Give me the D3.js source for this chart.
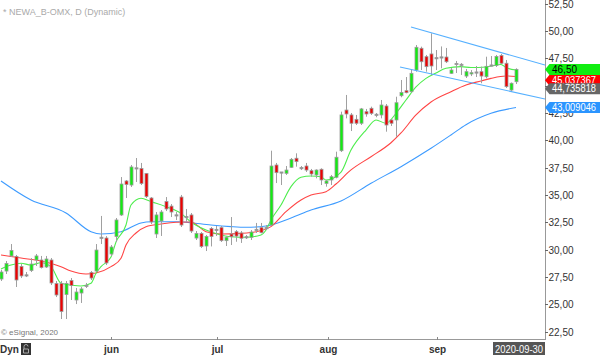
<!DOCTYPE html>
<html><head><meta charset="utf-8">
<script src="https://cdn.jsdelivr.net/npm/d3@7"></script>
<style>body{margin:0;background:#fff;} svg{display:block;font-family:Arial,"Liberation Sans",sans-serif;}</style>
</head><body><svg id="c" width="600" height="355"></svg>
<script>
// ---- data (daily candles, index 0..103) ----
const opens=[27.32,28.05,29.43,29.38,28.47,27.64,28.10,29.06,29.06,28.42,
29.06,26.91,26.91,25.90,27.18,25.40,26.04,26.68,27.92,28.05,
31.07,31.07,29.61,31.21,33.18,36.29,35.92,37.43,37.43,36.97,
34.73,31.44,32.63,34.41,33.99,33.13,34.82,32.99,33.18,31.07,
31.49,30.34,31.94,31.80,32.02,30.83,31.44,31.65,31.53,31.14,
31.14,31.80,32.02,31.96,32.26,37.75,37.05,36.99,37.54,38.37,
37.45,37.66,37.23,36.84,37.36,36.07,36.38,36.63,39.06,42.78,
42.33,41.93,41.57,42.63,42.94,42.33,42.33,43.15,41.87,41.87,
44.09,44.55,44.46,46.44,48.43,47.66,47.91,47.51,47.59,47.63,
46.14,46.99,46.90,45.89,46.08,46.22,46.29,45.83,46.86,46.86,
47.77,47.06,44.61,45.37];
const highs=[28.15,28.97,30.52,29.52,28.69,27.96,29.24,29.61,29.43,29.43,
29.24,27.14,27.14,27.14,27.41,26.50,26.59,26.96,28.05,30.52,
33.09,31.25,30.43,32.90,36.65,36.38,37.75,38.39,37.94,37.02,
34.82,33.45,33.63,34.82,34.18,33.45,35.01,33.73,33.36,31.71,
31.62,31.35,32.08,32.17,32.17,31.26,32.99,31.80,31.71,31.35,
31.80,32.45,32.45,32.26,39.06,37.94,37.11,37.66,38.39,38.82,
37.66,37.94,37.39,37.35,37.45,36.38,36.84,38.97,42.63,44.16,
42.51,42.33,42.97,42.88,43.09,42.51,43.70,43.33,41.93,44.00,
45.53,45.80,46.50,48.73,48.58,47.82,49.80,48.27,48.60,48.46,
46.63,47.27,47.08,46.54,46.44,46.81,46.75,47.66,47.72,47.82,
47.91,47.36,45.30,46.60];
const lows=[27.14,27.78,29.34,26.59,27.41,27.50,27.96,28.51,28.28,28.33,
26.77,25.67,23.66,23.66,25.40,25.03,25.13,26.50,27.23,27.96,
30.52,28.60,29.43,30.71,33.09,34.73,35.74,36.20,35.92,34.73,
32.35,31.07,31.26,33.54,32.99,32.72,32.08,32.54,31.53,30.89,
30.16,29.88,30.30,31.26,30.71,30.34,30.43,30.73,30.62,30.98,
30.89,31.53,31.50,31.80,32.17,36.10,35.92,36.84,37.48,37.60,
37.29,37.11,36.68,36.53,35.92,35.77,35.92,36.53,38.94,42.02,
40.86,41.41,41.41,42.17,42.33,42.12,42.02,40.80,41.32,40.34,
43.95,44.31,44.39,46.29,46.44,46.29,45.99,46.44,46.60,47.08,
46.08,46.17,45.99,45.71,45.89,45.80,45.23,45.68,46.76,46.72,
46.99,44.80,44.43,45.16];
const closes=[27.96,28.74,29.93,27.23,27.60,27.66,28.69,29.43,28.37,29.15,
26.96,25.86,24.35,26.91,26.73,26.13,26.41,26.70,27.41,29.97,
31.10,28.79,30.25,32.72,36.01,35.97,37.57,37.45,36.06,34.87,
32.54,33.18,33.45,33.73,33.45,33.15,32.26,33.00,31.71,31.49,
30.30,31.21,31.21,31.82,30.83,31.14,31.19,31.25,31.05,31.15,
31.62,31.82,31.56,31.98,37.66,37.05,37.07,37.29,38.27,38.06,
37.47,37.29,36.93,37.29,36.38,36.29,36.68,38.46,42.33,42.42,
41.57,41.57,42.88,42.42,42.48,42.35,43.24,41.41,41.57,43.45,
44.39,44.37,46.14,48.52,47.20,46.75,46.81,47.53,47.60,47.20,
46.44,47.00,46.92,46.29,46.20,46.20,45.89,46.78,46.85,47.68,
47.06,44.92,45.23,46.50];

// moving averages, [candle index, value]
const maGreen=[[0,28.24],[2,28.60],[4,28.76],[6,28.60],[8,28.81],[10,28.45],[12,26.93],[14,26.77],[16,26.68],[18,26.93],
[19,27.84],[20,28.45],[22,29.34],[23,30.71],[25,32.26],[26,34.09],[28,34.71],[30,34.40],[33,33.94],[36,33.33],
[38,32.54],[41,31.80],[44,31.35],[46,31.19],[49,31.14],[52,31.35],[53,31.80],[54,32.72],[56,34.09],[58,35.77],
[60,36.63],[62,36.75],[64,36.68],[65,36.38],[68,37.11],[70,39.12],[73,40.95],[75,41.87],[77,41.57],[79,42.48],
[81,43.70],[83,44.89],[85,45.68],[87,46.17],[89,46.60],[92,46.75],[94,46.67],[97,46.72],[100,46.95],[101,46.67],[103,46.44]];
const maRed=[[0,29.52],[4,29.24],[8,28.97],[12,28.45],[14,28.05],[17,27.78],[19,27.87],[22,28.45],[24,29.22],[25,30.43],
[27,31.53],[29,32.11],[32,32.35],[35,32.51],[38,32.54],[41,31.65],[44,31.44],[48,31.50],[51,31.65],[54,32.11],
[57,33.48],[60,34.55],[62,35.01],[65,35.31],[67,36.01],[70,37.30],[74,38.51],[78,39.79],[80,40.68],[83,42.33],
[86,43.52],[90,44.46],[93,45.07],[96,45.44],[98,45.68],[101,45.90],[103,45.85]];
const maBlue=[[0,36.29],[6,34.55],[13,33.36],[18,31.65],[20,31.44],[24,31.65],[28,32.45],[30,32.56],[33,32.56],[36,32.56],
[38,32.47],[42,32.26],[46,32.11],[49,32.05],[53,32.17],[58,32.90],[62,33.63],[68,34.46],[74,36.08],[80,37.60],
[86,39.28],[90,40.50],[93,41.44],[98,42.48],[103,43.01]];

// trend channel lines, [index, value]
const trendUpper=[[82,50.38],[108.8,46.90]];
const trendLower=[[79.8,46.72],[108.8,43.79]];

// axis ticks / labels
const yTicks=[22.5,25,27.5,30,32.5,35,37.5,40,42.5,45,47.5,50,52.5];
const monthLabels=["jun","jul","aug","sep"];
const monthIdx=[22,43.2,65.4,87.2];
const lastDate="2020-09-30";
const priceTags=[
  {v:45.037367,t:"45,037367",fill:"#ff0000",tc:"#fff",shift:-5},
  {v:44.735818,t:"44,735818",fill:"#666666",tc:"#fff",shift:0},
  {v:46.50,t:"46,50",fill:"#11ee11",tc:"#000",shift:0},
  {v:43.009046,t:"43,009046",fill:"#2b95ff",tc:"#fff",shift:0}
];

// ---- drawing ----
const svg=d3.select("#c");
const W=545, H=339;
svg.append("rect").attr("width",600).attr("height",355).attr("fill","#fff");
const x=d3.scaleLinear().domain([0,103]).range([1,516]);
const y=d3.scaleLinear().domain([22.5,52.5]).range([331.7,3.8]);

svg.append("clipPath").attr("id","clip").append("rect").attr("x",0).attr("y",0).attr("width",W).attr("height",H);
const plot=svg.append("g").attr("clip-path","url(#clip)");

const line=d3.line().x(d=>x(d[0])).y(d=>y(d[1])).curve(d3.curveMonotoneX);
plot.append("path").datum(maBlue).attr("d",line).attr("fill","none").attr("stroke","#3d9bff").attr("stroke-width",1.1);
plot.append("path").datum(maRed).attr("d",line).attr("fill","none").attr("stroke","#ff4444").attr("stroke-width",1.1);
plot.append("path").datum(maGreen).attr("d",line).attr("fill","none").attr("stroke","#4ded4d").attr("stroke-width",1.1);

const candles=d3.range(opens.length).map(i=>({i,o:opens[i],h:highs[i],l:lows[i],c:closes[i]}));
const cg=plot.append("g");
cg.selectAll("line.w").data(candles).join("line")
  .attr("x1",d=>Math.round(x(d.i))+0.5).attr("x2",d=>Math.round(x(d.i))+0.5)
  .attr("y1",d=>y(d.h)).attr("y2",d=>y(d.l)).attr("stroke","#a0a0a0").attr("stroke-width",1);
cg.selectAll("rect.b").data(candles).join("rect")
  .attr("x",d=>Math.round(x(d.i))-1)
  .attr("width",3)
  .attr("y",d=>Math.abs(d.c-d.o)<0.08? y(Math.max(d.o,d.c))-0.5 : y(Math.max(d.o,d.c)))
  .attr("height",d=>Math.abs(d.c-d.o)<0.08? 1.2 : Math.max(1,Math.abs(y(d.o)-y(d.c))))
  .attr("fill",d=>Math.abs(d.c-d.o)<0.08?"#888":(d.c>d.o?"#11ee11":"#ee0000"))
  .attr("stroke","#999").attr("stroke-width",0.8);

const tl=d3.line().x(d=>x(d[0])).y(d=>y(d[1]));
plot.append("path").datum(trendUpper).attr("d",tl).attr("fill","none").attr("stroke","#55b0ff").attr("stroke-width",1.1);
plot.append("path").datum(trendLower).attr("d",tl).attr("fill","none").attr("stroke","#55b0ff").attr("stroke-width",1.1);

// axes
svg.append("line").attr("x1",W+0.5).attr("x2",W+0.5).attr("y1",0).attr("y2",H+1).attr("stroke","#999");
svg.append("line").attr("x1",0).attr("x2",W+1).attr("y1",H+0.5).attr("y2",H+0.5).attr("stroke","#999");
const fmt=v=>d3.format(".2f")(v).replace(".",",");
const ya=svg.append("g");
yTicks.forEach(v=>{
  const yy=Math.round(y(v))+0.5;
  ya.append("line").attr("x1",W).attr("x2",W+3).attr("y1",yy).attr("y2",yy).attr("stroke","#666");
  ya.append("text").attr("x",W+3.5).attr("y",yy).attr("dy","0.35em").attr("font-size",10).attr("fill","#333").text(fmt(v));
});
monthIdx.forEach((m,k)=>{
  const xx=Math.round(x(m))+0.5;
  svg.append("line").attr("x1",xx).attr("x2",xx).attr("y1",H-2).attr("y2",H+1).attr("stroke","#888");
  svg.append("text").attr("x",xx).attr("y",353).attr("text-anchor","middle").attr("font-size",10).attr("font-weight","bold").attr("fill","#333").text(monthLabels[k]);
});

// price tags
priceTags.forEach(p=>{
  const cy=y(p.v)+p.shift;
  svg.append("path").attr("d",`M${W},${cy} L${W+4.5},${cy-5.5} L600,${cy-5.5} L600,${cy+5.5} L${W+4.5},${cy+5.5} Z`).attr("fill",p.fill);
  const t=svg.append("text").attr("x",W+7).attr("y",cy).attr("dy","0.36em").attr("font-size",10).attr("fill",p.tc).text(p.t);
  if(p.t.length>6) t.attr("textLength",44).attr("lengthAdjust","spacingAndGlyphs");
});

// texts
svg.append("text").attr("x",3).attr("y",14.5).attr("font-size",9).attr("fill","#aaa").text("* NEWA_B-OMX, D (Dynamic)");
svg.append("text").attr("x",1).attr("y",334.5).attr("font-size",8).attr("fill","#777").text("© eSignal, 2020");
svg.append("text").attr("x",0).attr("y",353).attr("font-size",10).attr("font-weight","bold").attr("fill","#333").text("Dyn");
svg.append("rect").attr("x",21).attr("y",343).attr("width",10).attr("height",12).attr("fill","#333");
svg.append("path").attr("d","M24,349 v-2.5 a2,2 0 0 1 4,0 M23.5,349 h5 v4 h-5 z").attr("fill","none").attr("stroke","#aaa").attr("stroke-width",1);
svg.append("rect").attr("x",493).attr("y",342).attr("width",52).attr("height",13).attr("fill","#555");
svg.append("text").attr("x",519).attr("y",352.5).attr("text-anchor","middle").attr("font-size",10).attr("textLength",48).attr("lengthAdjust","spacingAndGlyphs").attr("fill","#fff").text(lastDate);
</script></body></html>
